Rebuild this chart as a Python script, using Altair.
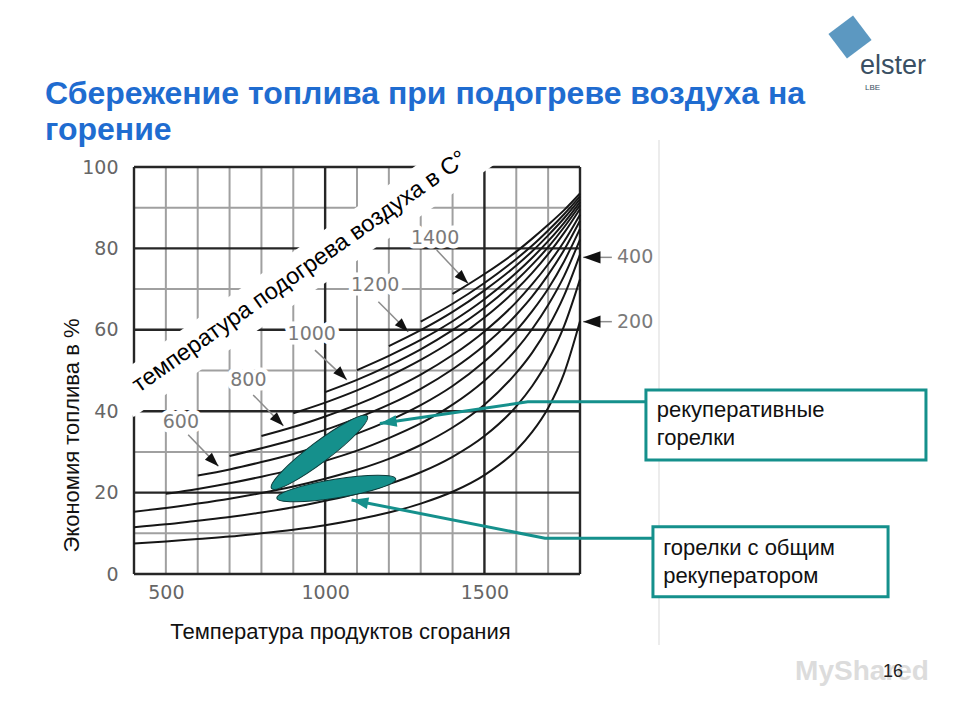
import altair as alt
import pandas as pd

# ---------------- data ----------------
# flue-gas temperature grid (deg C) at which the curves were read
flue_temp = [400, 500, 600, 700, 800, 900, 1000, 1100, 1200, 1300, 1400,
             1500, 1600, 1650, 1700, 1750, 1800]
# fuel saving (%) for each air-preheat temperature; each curve starts at
# max(400, preheat temperature) and runs to 1800
save_200 = [7.5, 8.0, 8.6, 9.2, 10.0, 10.9, 12.0, 13.4, 15.1, 17.3, 20.2, 24.3, 30.4, 34.9, 40.8, 49.3, 62.1]
save_300 = [11.5, 12.2, 13.1, 14.0, 15.1, 16.4, 18.0, 19.8, 22.1, 25.0, 28.8, 33.9, 41.2, 46.2, 52.5, 60.9, 72.4]
save_400 = [15.3, 16.2, 17.3, 18.5, 19.9, 21.5, 23.4, 25.6, 28.3, 31.7, 36.0, 41.6, 49.4, 54.4, 60.6, 68.4, 78.5]
save_500 = [19.7, 20.9, 22.3, 23.9, 25.7, 27.8, 30.3, 33.4, 37.0, 41.6, 47.5, 55.2, 60.2, 66.1, 73.2, 82.2]
save_600 = [24.2, 25.7, 27.5, 29.5, 31.8, 34.5, 37.7, 41.5, 46.2, 52.2, 59.8, 64.6, 70.1, 76.8, 84.8]
save_700 = [29.0, 30.9, 33.0, 35.4, 38.3, 41.6, 45.5, 50.3, 56.2, 63.7, 68.2, 73.5, 79.6, 86.8]
save_800 = [33.9, 36.1, 38.7, 41.6, 45.0, 49.0, 53.8, 59.6, 66.8, 71.2, 76.1, 81.7, 88.3]
save_900 = [39.5, 42.1, 45.1, 48.6, 52.6, 57.3, 63.0, 69.9, 74.0, 78.6, 83.8, 89.7]
save_1000 = [44.7, 47.7, 51.2, 55.2, 59.9, 65.4, 72.1, 76.0, 80.3, 85.2, 90.6]
save_1100 = [50.1, 53.6, 57.5, 62.1, 67.5, 74.0, 77.7, 81.8, 86.3, 91.4]
save_1200 = [56.0, 59.9, 64.4, 69.7, 75.8, 79.3, 83.2, 87.4, 92.1]
save_1300 = [62.0, 66.4, 71.5, 77.4, 80.7, 84.4, 88.4, 92.8]
save_1400 = [68.8, 73.7, 79.2, 82.4, 85.8, 89.4, 93.5]
air_preheat = [200, 300, 400, 500, 600, 700, 800, 900, 1000, 1100, 1200, 1300, 1400]
curve_values = [save_200, save_300, save_400, save_500, save_600, save_700, save_800,
                save_900, save_1000, save_1100, save_1200, save_1300, save_1400]

# burner zones (ellipse centres, data units)
zone_names = ["рекуперативные горелки", "горелки с общим рекуператором"]
zone_T = [982, 1035]
zone_S = [29.9, 21.0]

# tick values
x_ticks = [500, 1000, 1500]
y_ticks = [0, 20, 40, 60, 80, 100]
x_grid_major = [400, 1000, 1500, 1800]
x_grid_minor = [500, 600, 700, 800, 900, 1100, 1200, 1300, 1400, 1600, 1700]
y_grid_major = [0, 20, 40, 60, 80, 100]
y_grid_minor = [10, 30, 50, 70, 90]

# curve labels
curve_label_text = ["600", "800", "1000", "1200", "1400"]
side_label_text = ["400", "200"]

# slide texts
title_lines = ["Сбережение топлива при подогреве воздуха на", "горение"]
caption_text = "температура подогрева  воздуха в С°"
x_title = "Температура продуктов сгорания"
y_title = "Экономия топлива в %"

# ---------------- annotation geometry (data units) ----------------
curve_label_T = [547, 759, 958, 1157, 1345]
curve_label_S = [37.4, 47.7, 58.9, 71.0, 82.5]
curve_arrow_T = [570, 774, 968, 1167, 1350]
curve_arrow_S = [34.2, 44.0, 55.0, 66.9, 79.6]
curve_tip_T = [665, 869, 1068, 1261, 1449]
curve_tip_S = [26.5, 36.4, 47.7, 59.5, 71.4]
side_label_T = [1973, 1973]
side_label_S = [77.8, 62.0]
side_arrow_T = [1900, 1900]
side_tip_T = [1810, 1810]

callout_line_id = [1, 1, 1, 2, 2, 2]
callout_order = [0, 1, 2, 0, 1, 2]
callout_T = [2007, 1636, 1172, 2029, 1690, 1083]
callout_S = [42.3, 42.3, 37.0, 8.8, 8.8, 18.2]
callout_tip_T = [1172, 1083]
callout_tip_S = [37.0, 18.2]
callout_tip_angle = [171.6, 191.2]

box_T = [2007, 2029]
box_T2 = [2886, 2767]
box_S = [45.2, 11.6]
box_S2 = [28.0, -5.6]
box_lines = ["рекуперативные", "горелки", "горелки с общим", "рекуператором"]
box_line_T = [2041, 2041, 2061, 2061]
box_line_S = [38.6, 31.7, 4.7, -2.3]

TEAL = "#15908c"
W, H = 446, 407

xs = alt.Scale(domain=[400, 1800], nice=False, zero=False)
ys = alt.Scale(domain=[0, 100], nice=False, zero=False)

XAX = alt.Axis(
    values=x_ticks, format="d", title=x_title, titleX=206, titleY=64,
    titleAlign="center", titleBaseline="alphabetic", titleFont="Liberation Sans",
    titleFontSize=22, titleFontWeight="normal", titleColor="#111111",
    labelFont="DejaVu Sans", labelFontSize=19, labelColor="#666666", labelPadding=9,
    domain=False, ticks=False, grid=False)
YAX = alt.Axis(
    values=y_ticks, format="d", title=y_title, titleAngle=270, titleX=-56, titleY=268,
    titleAlign="center", titleBaseline="alphabetic", titleFont="Liberation Sans",
    titleFontSize=22, titleFontWeight="normal", titleColor="#111111",
    labelFont="DejaVu Sans", labelFontSize=19, labelColor="#666666", labelPadding=16,
    domain=False, ticks=False, grid=False)


def X(f):
    return alt.X(f, type="quantitative", scale=xs, axis=XAX)


def Y(f):
    return alt.Y(f, type="quantitative", scale=ys, axis=YAX)


rows = []
for ta, vals in zip(air_preheat, curve_values):
    for t, s in zip(flue_temp[len(flue_temp) - len(vals):], vals):
        rows.append({"air": ta, "T": t, "S": s})
curve_df = pd.DataFrame(rows)

# ---------------- grid ----------------
g_xmin = alt.Chart(pd.DataFrame({"T": x_grid_minor})).mark_rule(color="#a0a0a0", strokeWidth=2).encode(x=X("T"))
g_ymin = alt.Chart(pd.DataFrame({"S": y_grid_minor})).mark_rule(color="#a0a0a0", strokeWidth=2).encode(y=Y("S"))
g_xmaj = alt.Chart(pd.DataFrame({"T": x_grid_major})).mark_rule(color="#262626", strokeWidth=2.4).encode(x=X("T"))
g_ymaj = alt.Chart(pd.DataFrame({"S": y_grid_major})).mark_rule(color="#262626", strokeWidth=2.4).encode(y=Y("S"))

# white band behind rotated caption
BAND = "M-1,-0.1 L1,-0.1 L1,0.1 L-1,0.1 Z"
band = alt.Chart(pd.DataFrame({"T": [925], "S": [74.0]})).mark_point(
    shape=BAND, filled=True, fill="white", opacity=1, size=193600, angle=325
).encode(x=X("T"), y=Y("S"))

label_df = pd.DataFrame({"txt": curve_label_text, "T": curve_label_T, "S": curve_label_S})
side_df = pd.DataFrame({"txt": side_label_text, "T": side_label_T, "S": side_label_S,
                        "T0": side_arrow_T, "T1": side_tip_T})
lab_font = dict(font="DejaVu Sans", fontSize=19, align="center", baseline="middle")
halo = alt.Chart(label_df).mark_text(fill="white", stroke="white", strokeWidth=9, strokeJoin="round", **lab_font).encode(
    x=X("T"), y=Y("S"), text="txt:N")

# ---------------- curves ----------------
curves = alt.Chart(curve_df).mark_line(interpolate="monotone", color="#161616", strokeWidth=2).encode(
    x=X("T"), y=Y("S"), detail="air:N")

# ---------------- burner zones ----------------
ELL1 = ("M-1,0 C-1,-0.0939 -0.5523,-0.17 0,-0.17 C0.5523,-0.17 1,-0.0939 1,0 "
        "C1,0.0939 0.5523,0.17 0,0.17 C-0.5523,0.17 -1,0.0939 -1,0 Z")
ELL2 = ("M-1,0 C-1,-0.0856 -0.5523,-0.155 0,-0.155 C0.5523,-0.155 1,-0.0856 1,0 "
        "C1,0.0856 0.5523,0.155 0,0.155 C-0.5523,0.155 -1,0.0856 -1,0 Z")
zone_df = pd.DataFrame({"zone": zone_names, "T": zone_T, "S": zone_S})
zone1 = alt.Chart(zone_df.iloc[[0]]).mark_point(
    shape=ELL1, filled=True, fill=TEAL, stroke="#0d3b3a", strokeWidth=1, opacity=1, size=14400, angle=322.9
).encode(x=X("T"), y=Y("S"), tooltip="zone:N")
zone2 = alt.Chart(zone_df.iloc[[1]]).mark_point(
    shape=ELL2, filled=True, fill=TEAL, stroke="#0d3b3a", strokeWidth=1, opacity=1, size=14500, angle=350.8
).encode(x=X("T"), y=Y("S"), tooltip="zone:N")

# ---------------- callouts ----------------
HEAD = "M0,0 L-2,-0.7 L-2,0.7 Z"
callout_df = pd.DataFrame({"id": callout_line_id, "o": callout_order, "T": callout_T, "S": callout_S})
callout_lines = alt.Chart(callout_df).mark_line(color=TEAL, strokeWidth=3).encode(
    x=X("T"), y=Y("S"), detail="id:N", order="o:Q")
tip_df = pd.DataFrame({"T": callout_tip_T, "S": callout_tip_S, "a": callout_tip_angle})
callout_heads = alt.Chart(tip_df).mark_point(shape=HEAD, filled=True, fill=TEAL, opacity=1, size=280).encode(
    x=X("T"), y=Y("S"), angle=alt.Angle("a:Q", scale=None))
box_df = pd.DataFrame({"T": box_T, "T2": box_T2, "S": box_S, "S2": box_S2})
boxes = alt.Chart(box_df).mark_rect(fill="white", stroke=TEAL, strokeWidth=3).encode(
    x=X("T"), x2="T2", y=Y("S"), y2="S2")
box_text_df = pd.DataFrame({"txt": box_lines, "T": box_line_T, "S": box_line_S})
box_text = alt.Chart(box_text_df).mark_text(
    font="Liberation Sans", fontSize=22, align="left", baseline="alphabetic", color="#111111"
).encode(x=X("T"), y=Y("S"), text="txt:N")

# ---------------- curve labels and arrows ----------------
arrow_df = pd.DataFrame({"T": curve_arrow_T, "S": curve_arrow_S, "T2": curve_tip_T, "S2": curve_tip_S})
label_arrows = alt.Chart(arrow_df).mark_rule(color="#8c8c8c", strokeWidth=1.5).encode(
    x=X("T"), y=Y("S"), x2="T2", y2="S2")
label_heads = alt.Chart(arrow_df).mark_point(shape=HEAD, filled=True, fill="#111111", opacity=1, size=200, angle=45).encode(
    x=X("T2"), y=Y("S2"))
labels = alt.Chart(label_df).mark_text(color="#7a7a7a", **lab_font).encode(x=X("T"), y=Y("S"), text="txt:N")

side_arrows = alt.Chart(side_df).mark_rule(color="#8c8c8c", strokeWidth=1.5).encode(
    x=X("T0"), x2="T1", y=Y("S"))
side_heads = alt.Chart(side_df).mark_point(shape=HEAD, filled=True, fill="#111111", opacity=1, size=300, angle=180).encode(
    x=X("T1"), y=Y("S"))
side_labels = alt.Chart(side_df).mark_text(color="#7a7a7a", **lab_font).encode(x=X("T"), y=Y("S"), text="txt:N")

caption = alt.Chart(pd.DataFrame({"txt": [caption_text], "T": [416], "S": [44.5]})).mark_text(
    font="Liberation Sans", fontSize=23.5, align="left", baseline="alphabetic", angle=325, color="#000000"
).encode(x=X("T"), y=Y("S"), text="txt:N")

# ---------------- slide decorations (pixel positions) ----------------
title = alt.Chart(pd.DataFrame({"txt": title_lines, "py": [-63, -27]})).mark_text(
    font="Liberation Sans", fontSize=32, fontWeight="bold", align="left", baseline="alphabetic", color="#1f6cd0"
).encode(x=alt.value(-89), y=alt.Y("py:Q", scale=None), text="txt:N")
border = alt.Chart(pd.DataFrame({"k": [0]})).mark_rule(color="#e6e6e6", strokeWidth=1.5).encode(
    x=alt.value(525), y=alt.value(-27), y2=alt.value(478))
logo_mark = alt.Chart(pd.DataFrame({"k": [0]})).mark_point(
    shape="M0,-1 L1,0 L0,1 L-1,0 Z", filled=True, fill="#3f86b6", opacity=0.85, size=1900, angle=8
).encode(x=alt.value(716), y=alt.value(-130))
logo_text = alt.Chart(pd.DataFrame({"txt": ["elster"]})).mark_text(
    font="Liberation Sans", fontSize=27, align="left", baseline="alphabetic", color="#3a4f63"
).encode(x=alt.value(726), y=alt.value(-93), text="txt:N")
logo_sub = alt.Chart(pd.DataFrame({"txt": ["LBE"]})).mark_text(
    font="Liberation Sans", fontSize=8, align="left", baseline="alphabetic", color="#3a4f63"
).encode(x=alt.value(731), y=alt.value(-77), text="txt:N")
watermark = alt.Chart(pd.DataFrame({"txt": ["MyShared"]})).mark_text(
    font="Liberation Sans", fontSize=28, fontWeight="bold", align="center", baseline="middle", color="#dcdcdc"
).encode(x=alt.value(728), y=alt.value(505), text="txt:N")
page_no = alt.Chart(pd.DataFrame({"txt": ["16"]})).mark_text(
    font="Liberation Sans", fontSize=18, align="center", baseline="middle", color="#222222"
).encode(x=alt.value(759), y=alt.value(505), text="txt:N")

chart = alt.layer(
    g_xmin, g_ymin, g_xmaj, g_ymaj, band, halo, curves, zone1, zone2,
    callout_lines, callout_heads, border, boxes, box_text,
    label_arrows, label_heads, labels, side_arrows, side_heads, side_labels, caption,
    title, logo_mark, logo_text, logo_sub, watermark, page_no,
).properties(
    width=W, height=H,
    autosize=alt.AutoSizeParams(type="none"),
    padding={"left": 126, "top": 159, "right": 368, "bottom": 134},
    background="white",
).configure_view(stroke=None)

chart.save("out.html", embed_options={"renderer": "svg", "actions": False})
